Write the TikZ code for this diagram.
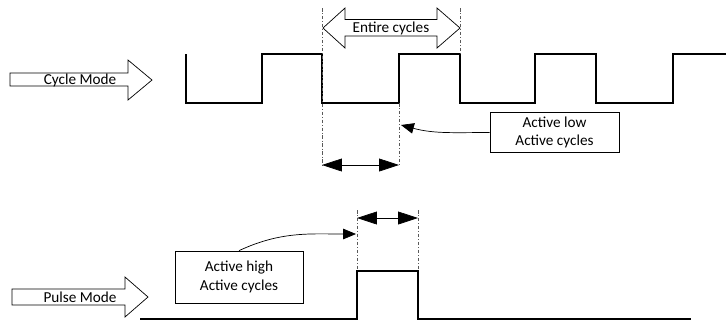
\documentclass[tikz,border=0pt]{standalone}
\usepackage{fontspec}
\setmainfont{Carlito}
\usetikzlibrary{arrows.meta}
\tikzset{ lbl/.style = { inner sep = 0pt
                       , font      = \fontsize{13}{15.5}\selectfont
                       },
          box/.style = { draw
                       , line width = 0.6pt
                       , align      = center
                       , font       = \fontsize{13}{16}\selectfont
                       },
          blk/.style = { draw
                       , line width = 0.6pt
                       , fill       = white
                       },
          sig/.style = { line width = 1.4pt
                       , line join  = miter
                       },
          guide/.style = { dash pattern = on 3pt off 1.5pt on 0.8pt off 1.5pt
                         , line width   = 0.6pt
                         , black!65
                         },
          span/.style = { {Triangle[length=17pt, width=11pt]}-{Triangle[length=17pt, width=11pt]}
                        , line width = 0.6pt
                        },
          hint/.style = { -{Triangle[length=11pt, width=9pt]}
                        , line width = 0.6pt
                        }
        }

\begin{document}
\begin{tikzpicture}[x=0.03cm, y=-0.03cm]
  \useasboundingbox (0,0) rectangle (726,323);
  % cycle mode waveform
  \draw[sig] (186,54) -- (186,103) -- (262,103) -- (262,54) -- (322,54)
    -- (322,103) -- (399,103) -- (399,54) -- (460,54) -- (460,103)
    -- (535,103) -- (535,54) -- (596,54) -- (596,103) -- (673,103)
    -- (673,54) -- (726,54);
  % pulse mode waveform
  \draw[sig] (140,319) -- (357,319) -- (357,271) -- (418,271)
    -- (418,319) -- (691,319);
  % guide lines
  \foreach \x/\a/\b in {322/8/165, 460/8/54, 399/103/165, 357/210/271, 418/210/271} {
    \coordinate (g\x a) at (\x,\a);
    \coordinate (g\x b) at (\x,\b);
    \draw[guide] (g\x a) -- (g\x b);
  }
  % block arrows
  \draw[blk] (10,73) -- (128,73) -- (128,60) -- (152,80) -- (128,100)
    -- (128,86) -- (10,86) -- cycle;
  \draw[blk] (12,289) -- (125,289) -- (125,277) -- (148,297) -- (125,317)
    -- (125,305) -- (12,305) -- cycle;
  \draw[blk] (323,28) -- (345,8) -- (345,19.5) -- (437,19.5) -- (437,8)
    -- (460,28) -- (437,48) -- (437,36) -- (345,36) -- (345,48) -- cycle;
  \node[lbl] (cyc) at (80,80) {Cycle Mode};
  \node[lbl] (pls) at (80,297) {Pulse Mode};
  \node[lbl] (ent) at (391,28) {Entire cycles};
  % spans
  \coordinate (s1a) at (322,165);
  \coordinate (s1b) at (399,165);
  \coordinate (s2a) at (357,218);
  \coordinate (s2b) at (418,218);
  \draw[span] (s1a) -- (s1b);
  \draw[span] (s2a) -- (s2b);
  % notes
  \node[box, minimum width=3.87cm, minimum height=1.17cm] (low) at (554.5,132.5)
    {Active low\\Active cycles};
  \node[box, minimum width=3.84cm, minimum height=1.56cm] (high) at (239,277)
    {Active high\\Active cycles};
  \coordinate (lowtip) at (401,125);
  \coordinate (hightip) at (356,234);
  \draw[hint] (low.west) to[out=180, in=-15] (lowtip);
  \draw[hint] (high.north) to[out=25, in=180] (hightip);
\end{tikzpicture}
\end{document}
